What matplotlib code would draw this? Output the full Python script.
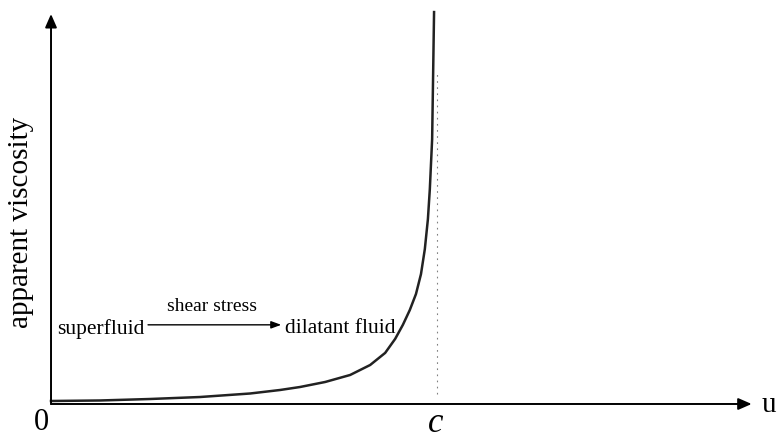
import matplotlib
matplotlib.use("Agg")
from matplotlib import pyplot as plt

# curve (u, apparent viscosity), c = 1
u = [0.0, 0.127, 0.257, 0.387, 0.517, 0.595, 0.647, 0.712, 0.777, 0.829,
     0.868, 0.894, 0.914, 0.932, 0.948, 0.961, 0.971, 0.979, 0.984, 0.990,
     0.992, 0.995]
visc = [0.077, 0.090, 0.128, 0.179, 0.269, 0.359, 0.436, 0.564, 0.744, 1.00,
        1.31, 1.67, 2.03, 2.41, 2.82, 3.33, 3.97, 4.74, 5.51, 6.79,
        8.08, 10.05]
c_value = 1.0
u_max = 1.82
v_max = 10.0

serif = ["Liberation Serif", "DejaVu Serif"]

fig = plt.figure(figsize=(7.79, 4.39), dpi=100)
ax = fig.add_axes([0, 0, 1, 1])
ax.set_xlim(-0.1325, 1.891)
ax.set_ylim(-0.872, 10.385)
ax.axis("off")

# axes with arrow heads
arrow = dict(arrowstyle="-|>,head_length=0.8,head_width=0.35", color="black",
             lw=1.4, shrinkA=0, shrinkB=0)
ax.annotate("", xy=(u_max, 0), xytext=(0, 0), arrowprops=arrow)
ax.annotate("", xy=(0, v_max), xytext=(0, 0), arrowprops=arrow)

# asymptote at c
ax.plot([c_value + 0.003, c_value + 0.003], [0.25, 8.5], color="grey",
        lw=0.8, ls=(0, (1.5, 4)))

ax.plot(u, visc, color="#222222", lw=1.8, solid_joinstyle="round")

ax.text(-0.005, -0.08, "0", fontsize=22, family=serif, ha="right", va="top")
ax.text(u_max + 0.027, 0.0, "u", fontsize=21, family=serif, ha="left",
        va="center")
ax.text(c_value, -0.69, "c", fontsize=25, family=serif, style="italic",
        ha="center", va="baseline")
ax.text(-0.078, 4.69, "apparent viscosity", fontsize=21, family=serif,
        rotation=90, ha="center", va="center")

ax.text(0.015, 1.95, "superfluid", fontsize=15.5, family=serif, ha="left",
        va="center")
ax.annotate("", xy=(0.598, 2.03), xytext=(0.252, 2.03),
            arrowprops=dict(arrowstyle="-|>,head_length=0.6,head_width=0.22",
                            color="black", lw=1.0, shrinkA=0, shrinkB=0))
ax.text(0.417, 2.3, "shear stress", fontsize=14, family=serif, ha="center",
        va="bottom")
ax.text(0.608, 1.95, "dilatant fluid", fontsize=15.5, family=serif, ha="left",
        va="center")

fig.savefig("out.png", dpi=100)
